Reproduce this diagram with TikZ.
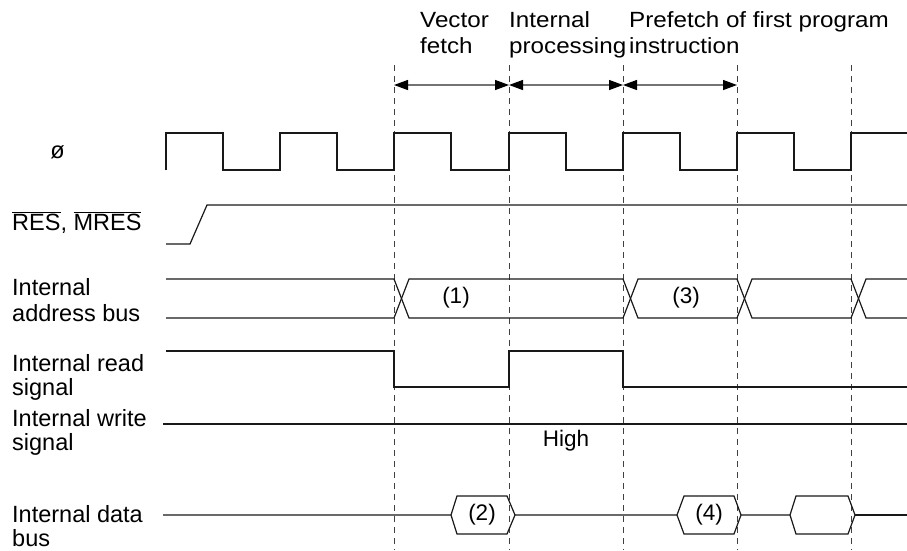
\documentclass[tikz,border=0pt]{standalone}
\usepackage{fontspec}
\setmainfont{Liberation Sans}
\newfontfamily\hdrfont[FakeStretch=1.1]{Liberation Sans}
\usetikzlibrary{arrows.meta}
\begin{document}
\begin{tikzpicture}[x=1pt,y=-1pt,
  sig/.style={line width=1.2pt,black!90},
  guide/.style={dash pattern=on 6pt off 5pt,line width=0.6pt,black!75},
  span/.style={{Triangle[length=14pt,width=10pt,color=black]}-{Triangle[length=14pt,width=10pt,color=black]},line width=1.3pt,black!55},
  lbl/.style={font=\fontsize{23.5}{24}\selectfont,align=left,anchor=west,inner sep=0pt},
  hdr/.style={font=\hdrfont\fontsize{22}{26}\selectfont,align=left,anchor=base west,inner sep=0pt},
  val/.style={font=\fontsize{22.5}{24}\selectfont,inner sep=0pt}]
\useasboundingbox (0,0) rectangle (907,550);
% guides
\foreach \x/\n in {394/a,509/b,623/c,737/d,851/e}{
  \draw[guide] (\x,65) -- (\x,550);
  \coordinate (g\n) at (\x,85);
}
\draw[span] (ga) -- (gb);
\draw[span] (gb) -- (gc);
\draw[span] (gc) -- (gd);
% headers (base anchor = baseline of last line)
\node[hdr] (h1) at (420,53) {Vector\\fetch};
\node[hdr] (h2) at (509,53) {Internal\\processing};
\node[hdr] (h3) at (629,53) {Prefetch of first program\\instruction};
% labels
\node[lbl,anchor=center] (lphi) at (57.5,152) {ø};
\node[lbl,anchor=base west] (lres) at (12,230) {$\overline{\mbox{RES}}$, $\overline{\mbox{MRES}}$};
\node[lbl,font=\fontsize{23.5}{25.5}\selectfont] (ladr) at (12,300) {Internal\\address bus};
\node[lbl] (lrd) at (12,377) {Internal read\\signal};
\node[lbl] (lwr) at (12,432) {Internal write\\signal};
\node[lbl] (ldat) at (12,526) {Internal data\\bus};
% clock
\draw[sig] (166,170) -- (166,133) -- (223,133) -- (223,170) -- (280,170) -- (280,133) -- (337,133) -- (337,170)
  -- (394,170) -- (394,133) -- (451,133) -- (451,170) -- (509,170) -- (509,133) -- (566,133) -- (566,170)
  -- (623,170) -- (623,133) -- (680,133) -- (680,170) -- (737,170) -- (737,133) -- (794,133) -- (794,170)
  -- (851,170) -- (851,133) -- (907,133);
% RES
\draw[sig] (166,244) -- (190,244) -- (207,205) -- (907,205);
% address bus
\draw[sig] (166,279) -- (394,279) -- (409,318) -- (623,318) -- (638,279) -- (737,279) -- (752,318) -- (851,318) -- (866,279) -- (907,279);
\draw[sig] (166,318) -- (394,318) -- (409,279) -- (623,279) -- (638,318) -- (737,318) -- (752,279) -- (851,279) -- (866,318) -- (907,318);
\node[val] (v1) at (456,298) {(1)};
\node[val] (v3) at (686,298) {(3)};
% read
\draw[sig] (166,351) -- (394,351) -- (394,387) -- (509,387) -- (509,351) -- (623,351) -- (623,387) -- (907,387);
% write
\draw[sig] (163,424) -- (907,424);
\node[val] (vh) at (566,441) {High};
% data bus
\draw[sig] (163,515) -- (451,515) -- (457,496) -- (507,496) -- (515,515) -- (507,534) -- (457,534) -- (451,515);
\draw[sig] (515,515) -- (677,515) -- (684,496) -- (734,496) -- (741,515) -- (734,534) -- (684,534) -- (677,515);
\draw[sig] (741,515) -- (790,515) -- (796,496) -- (848,496) -- (855,515) -- (848,534) -- (796,534) -- (790,515);
\draw[sig] (855,515) -- (907,515);
\node[val] (v2) at (482,515) {(2)};
\node[val] (v4) at (709,515) {(4)};
\end{tikzpicture}
\end{document}
